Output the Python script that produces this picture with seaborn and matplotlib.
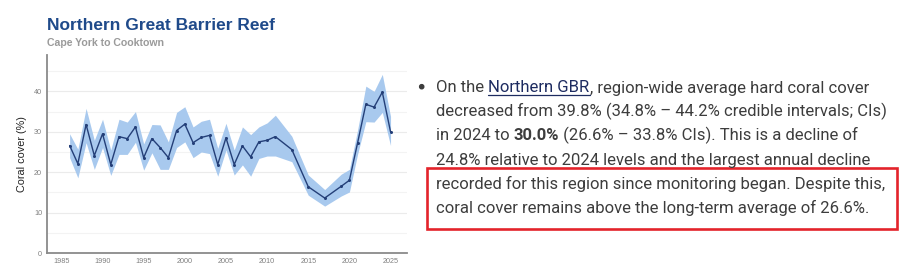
import matplotlib
matplotlib.use("Agg")
import matplotlib.pyplot as plt
import seaborn as sns
import pandas as pd
from matplotlib.transforms import IdentityTransform
from matplotlib.lines import Line2D
from matplotlib.patches import Rectangle

# ---------------- data ----------------
years = [1986, 1987, 1988, 1989, 1990, 1991, 1992, 1993, 1994, 1995, 1996, 1997,
         1998, 1999, 2000, 2001, 2002, 2003, 2004, 2005, 2006, 2007, 2008, 2009,
         2010, 2011, 2013, 2015, 2017, 2019, 2020, 2021, 2022, 2023, 2024, 2025]
cover = [26.6, 22.1, 31.8, 24.1, 29.5, 21.9, 28.8, 28.3, 31.2, 23.6, 28.3, 26.1,
         23.6, 30.3, 31.9, 27.3, 28.6, 29.1, 21.9, 28.5, 21.9, 26.5, 23.8, 27.5,
         27.9, 28.8, 25.6, 16.4, 13.6, 16.5, 18.0, 27.3, 36.8, 36.1, 39.8, 30.0]
upper = [29.5, 25.7, 35.8, 27.9, 33.1, 25.5, 33.1, 32.4, 35.0, 27.0, 31.8, 31.7,
         27.5, 34.8, 36.2, 31.2, 32.6, 33.1, 25.9, 32.1, 25.5, 31.2, 29.3, 31.2,
         32.2, 34.1, 28.9, 19.3, 15.7, 19.5, 20.7, 30.5, 41.3, 40.0, 44.2, 33.8]
lower = [23.6, 18.6, 27.3, 20.7, 26.1, 19.2, 24.4, 24.4, 27.4, 20.5, 24.8, 20.7,
         20.7, 26.1, 27.5, 23.6, 25.0, 24.6, 19.0, 25.5, 19.3, 21.8, 19.0, 23.4,
         24.0, 24.0, 22.6, 14.3, 11.6, 14.1, 15.1, 24.5, 32.5, 32.4, 34.8, 26.6]
x_ticks = [1985, 1990, 1995, 2000, 2005, 2010, 2015, 2020, 2025]
y_ticks = [0, 10, 20, 30, 40]

title = "Northern Great Barrier Reef"
subtitle = "Cape York to Cooktown"
y_label = "Coral cover (%)"

df = pd.DataFrame({"year": years, "cover": cover, "upper": upper, "lower": lower})

# ---------------- figure ----------------
sns.set_theme(style="white")
plt.rcParams["font.family"] = ["Liberation Sans", "DejaVu Sans"]

W, H = 915, 278
fig = plt.figure(figsize=(W / 100, H / 100), dpi=100)
fig.patch.set_facecolor("white")

ax_l, ax_r, ax_t, ax_b = 47, 407, 55, 253
ax = fig.add_axes([ax_l / W, (H - ax_b) / H, (ax_r - ax_l) / W, (ax_b - ax_t) / H])
ax.set_facecolor("white")

ax.fill_between(df["year"], df["lower"], df["upper"], color="#a8c9ee", lw=0, zorder=1)
sns.lineplot(data=df, x="year", y="cover", ax=ax, color="#243f78", lw=1.0,
             marker="o", markersize=2.2, markeredgewidth=0, zorder=3)

ax.set_xlim(1983.25, 2027.0)
ax.set_ylim(0, 49.0)
ax.set_xticks(x_ticks)
ax.set_yticks(y_ticks)
ax.set_yticks([5, 15, 25, 35, 45], minor=True)
ax.grid(True, which="major", axis="y", color="#ebebeb", lw=0.8, zorder=0)
ax.grid(True, which="minor", axis="y", color="#f3f3f3", lw=0.8, zorder=0)
ax.set_axisbelow(True)
ax.tick_params(axis="both", which="major", labelsize=5.2, labelcolor="#808080",
               colors="#808080", length=2, width=0.6, pad=1.5)
ax.tick_params(axis="y", which="minor", length=0)
for s in ["top", "right"]:
    ax.spines[s].set_visible(False)
for s in ["left", "bottom"]:
    ax.spines[s].set_color("#8a8a8a")
    ax.spines[s].set_linewidth(1.3)
ax.set_xlabel("")
ax.set_ylabel(y_label, fontsize=7.8, color="#222222", labelpad=5)

# titles
fig.text(47 / W, 1 - 30 / H, title, fontsize=12.5, fontweight="bold",
         color="#1f4a8a", va="baseline", ha="left")
fig.text(47 / W, 1 - 46 / H, subtitle, fontsize=7.6, fontweight="bold",
         color="#9a9a9a", va="baseline", ha="left")

# ---------------- right-hand text ----------------
fig.canvas.draw()
renderer = fig.canvas.get_renderer()
txt_font = ["Roboto", "DejaVu Sans"]
fs = 12.0
base_col = "#3d3d3d"
link_col = "#1d2b60"


def advance(s, weight="normal"):
    t1 = fig.text(0, 0, s + "X", fontsize=fs, family=txt_font, fontweight=weight,
                  transform=IdentityTransform())
    t2 = fig.text(0, 0, "X", fontsize=fs, family=txt_font, fontweight=weight,
                  transform=IdentityTransform())
    w = t1.get_window_extent(renderer).width - t2.get_window_extent(renderer).width
    t1.remove()
    t2.remove()
    return w


lines = [
    [("On the ", "normal", base_col, False), ("Northern GBR", "normal", link_col, True),
     (", region-wide average hard coral cover", "normal", base_col, False)],
    [("decreased from 39.8% (34.8% \u2013 44.2% credible intervals; CIs)", "normal", base_col, False)],
    [("in 2024 to ", "normal", base_col, False), ("30.0%", "bold", base_col, False),
     (" (26.6% \u2013 33.8% CIs). This is a decline of", "normal", base_col, False)],
    [("24.8% relative to 2024 levels and the largest annual decline", "normal", base_col, False)],
    [("recorded for this region since monitoring began. Despite this,", "normal", base_col, False)],
    [("coral cover remains above the long-term average of 26.6%.", "normal", base_col, False)],
]
baselines = [92.5, 116.5, 140.5, 164.5, 188.7, 212.5]
x0 = 436
for runs, by in zip(lines, baselines):
    x = x0
    for s, wt, col, und in runs:
        t = fig.text(x, H - by, s, fontsize=fs, family=txt_font, fontweight=wt,
                     color=col, va="baseline", ha="left", transform=IdentityTransform())
        if und:
            bb = t.get_window_extent(renderer)
            fig.add_artist(Line2D([bb.x0, bb.x1], [H - by - 2.4, H - by - 2.4],
                                  transform=IdentityTransform(), color=col, lw=0.9))
        x += advance(s, wt)

# bullet
fig.add_artist(plt.Circle((421.7, H - 86.7), 2.1, transform=IdentityTransform(),
                          color="#3d3d3d"))

# red highlight box
fig.add_artist(Rectangle((427, H - 228.5), 470, 61, transform=IdentityTransform(),
                         fill=False, edgecolor="#e3232b", lw=1.9))

fig.savefig("out.png", dpi=100, facecolor="white")
